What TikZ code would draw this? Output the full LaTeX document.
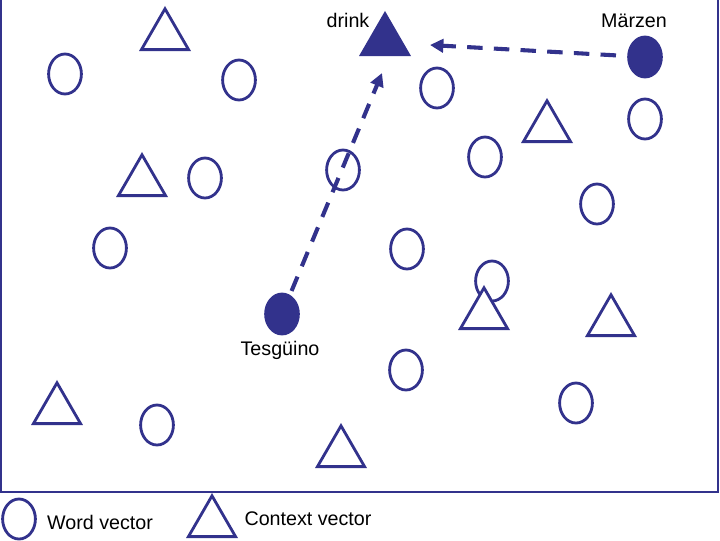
\documentclass[tikz,border=0pt]{standalone}
\usepackage{fontspec}
\setmainfont{Liberation Sans}
\usepackage{tikz}
\usetikzlibrary{shapes.geometric,arrows.meta}
\usepackage{xcolor}
\definecolor{vecblue}{RGB}{50,50,140}

\tikzset{
  word/.style={ellipse,draw=vecblue,line width=2pt,fill=white,inner sep=0pt,minimum width=0.82cm,minimum height=1cm},
  wordhit/.style={word,fill=vecblue},
  ctx/.style={regular polygon,regular polygon sides=3,draw=vecblue,line width=2pt,fill=white,inner sep=0pt,minimum size=1.36cm},
  ctxhit/.style={ctx,fill=vecblue},
  lbl/.style={font=\fontsize{14}{17}\selectfont,inner sep=0pt},
  move/.style={draw=vecblue,line width=2.9pt,dash pattern=on 11pt off 8pt,-{Triangle[length=9.5pt,width=9.5pt]}}
}

\begin{document}
\begin{tikzpicture}[x=0.025cm,y=-0.025cm]
\useasboundingbox (0,0) rectangle (720,540);
\draw[vecblue,line width=2pt] (1,0) -- (1,492) -- (718,492) -- (718,0);
% word vectors
\node[word] (w1) at (65,74) {};
\node[word] (w2) at (239,80) {};
\node[word] (w3) at (437,88) {};
\node[word] (w4) at (645,119) {};
\node[word] (w5) at (485,157) {};
\node[word] (w6) at (343,170) {};
\node[word] (w7) at (205,178) {};
\node[word] (w8) at (597,204) {};
\node[word] (w9) at (110,248) {};
\node[word] (w10) at (407,249) {};
\node[word] (w11) at (492,281) {};
\node[word] (w12) at (406,370) {};
\node[word] (w13) at (576,403) {};
\node[word] (w14) at (157,425) {};
\node[wordhit] (marzen) at (645,57) {};
\node[wordhit] (tesguino) at (282,314) {};
% context vectors
\node[ctx] (c1) at (165,36) {};
\node[ctx] (c2) at (142,182) {};
\node[ctx] (c3) at (547,128) {};
\node[ctx] (c4) at (484,315) {};
\node[ctx] (c5) at (611,322) {};
\node[ctx] (c6) at (57,410) {};
\node[ctx] (c7) at (341,453) {};
\node[ctxhit] (drink) at (385,41) {};
% labels
\node[lbl] (drinklbl) at (348,20) {drink};
\node[lbl] (marzenlbl) at (634,21) {Märzen};
\node[lbl] (tesguinolbl) at (280,350) {Tesgüino};
% moves
\coordinate (drinkbelow) at (382,73);
\coordinate (drinkright) at (430,45);
\draw[move,shorten <=3pt] (tesguino) -- (drinkbelow);
\draw[move,shorten <=8pt] (marzen) -- (drinkright);
% legend
\node[word] (legword) at (19,519) {};
\node[lbl] (legwordlbl) at (100,522) {Word vector};
\node[ctx] (legctx) at (212,523) {};
\node[lbl] (legctxlbl) at (308,519) {Context vector};
\end{tikzpicture}
\end{document}
